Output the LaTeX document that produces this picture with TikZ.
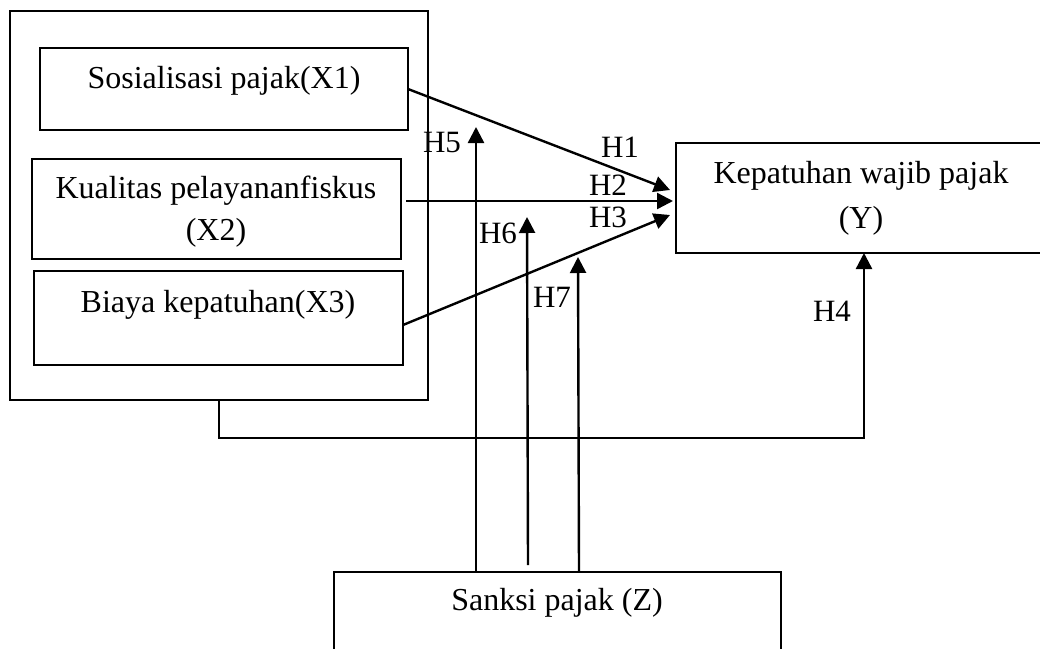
\documentclass[tikz,border=0pt]{standalone}
\usepackage{fontspec}
\setmainfont{Liberation Serif}
\usetikzlibrary{arrows.meta,calc}
\begin{document}
\begin{tikzpicture}[x=1pt,y=-1pt,
  box/.style n args={2}{draw,line width=2.2pt,inner sep=0pt,outer sep=0pt,minimum width=#1,minimum height=#2},
  txt/.style={anchor=base,inner sep=0pt,font=\fontsize{32}{38}\selectfont},
  hlab/.style={anchor=base,inner sep=0pt,font=\fontsize{31}{36}\selectfont},
  arr/.style={line width=2.4pt,-{Triangle[length=16pt,width=16pt]}}]
\useasboundingbox (0,0) rectangle (1040,648);
\clip (0,0) rectangle (1040,648);
% boxes
\node[box={418pt}{389pt}] (outer) at (219,205.5) {};
\node[box={368pt}{82pt}] (b1) at (224,89) {};
\node[box={369pt}{100pt}] (b2) at (216.5,209) {};
\node[box={369pt}{94pt}] (b3) at (218.5,318) {};
\node[box={370pt}{110pt}] (Y) at (861,198) {};
\node[box={447pt}{108pt}] (Z) at (557.5,626) {};
% texts
\node[txt] (t1) at (224,88) {Sosialisasi pajak(X1)};
\node[txt] (t2a) at (216,198) {Kualitas pelayananfiskus};
\node[txt] (t2b) at (216,240) {(X2)};
\node[txt] (t3) at (218,312) {Biaya kepatuhan(X3)};
\node[txt] (tya) at (861,183) {Kepatuhan wajib pajak};
\node[txt] (tyb) at (861,228) {(Y)};
\node[txt] (tz) at (557,610) {Sanksi pajak (Z)};
% connectors
\draw[arr] (b1.east) -- ($(Y.west)+(-6,-8)$);
\draw[arr] ($(b2.east)+(5,-8)$) -- ($(Y.west)+(-3,3)$);
\draw[arr] ($(b3.east)+(0,7)$) -- ($(Y.west)+(-6,17)$);
\draw[arr] (outer.south) -- ++(0,38) -| ($(Y.south)+(3,0)$);
\coordinate (z5) at ($(Z.north west)+(142,0)$);
\coordinate (z6) at ($(Z.north west)+(194,-7)$);
\coordinate (z7) at ($(Z.north west)+(245,0)$);
\coordinate (e5) at ($(z5)+(0,-445)$);
\coordinate (e6) at ($(z6)+(-1,-348)$);
\coordinate (e7) at ($(z7)+(-1,-315)$);
\draw[arr] (z5) -- (e5);
\draw[arr] (z6) -- (e6);
\draw[arr] (z7) -- (e7);
% labels
\node[hlab] (l5) at (442,152) {H5};
\node[hlab] (l1) at (620,157) {H1};
\node[hlab] (l2) at (608,195) {H2};
\node[hlab] (l3) at (608,227) {H3};
\node[hlab] (l6) at (498,243) {H6};
\node[hlab] (l7) at (552,307) {H7};
\node[hlab] (l4) at (832,321) {H4};
\end{tikzpicture}
\end{document}
